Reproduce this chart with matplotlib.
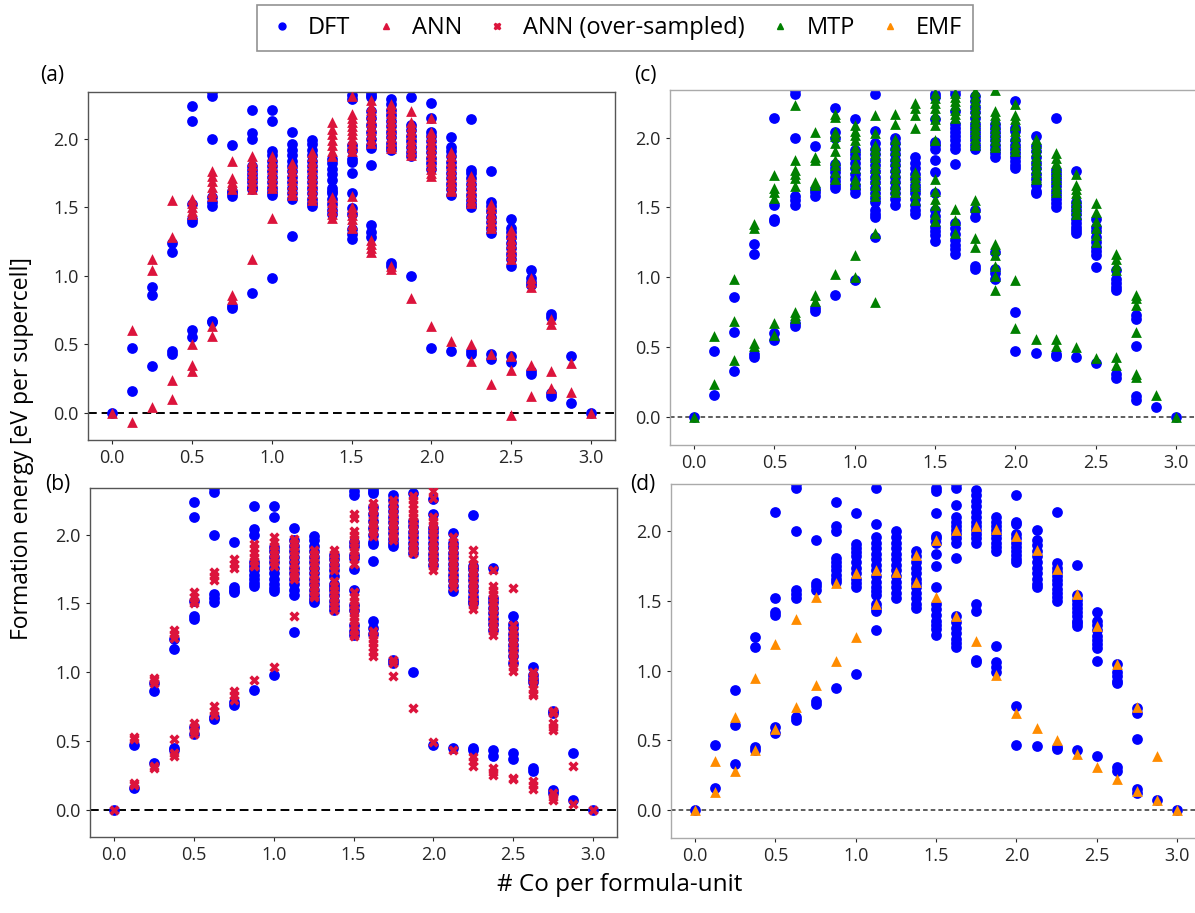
import matplotlib
matplotlib.use("Agg")
import matplotlib.pyplot as plt
from matplotlib.lines import Line2D

plt.rcParams['font.family'] = ['Open Sans', 'DejaVu Sans']

# ---------------- data (x = # Co per formula-unit -> formation energies) ----------------
DFT_AB = {
    0.0: [0.0], 0.125: [0.47, 0.16], 0.25: [0.92, 0.86, 0.34],
    0.375: [1.24, 1.17, 0.45, 0.43],
    0.5: [2.24, 2.13, 1.52, 1.41, 1.39, 0.60, 0.55],
    0.625: [2.34, 2.31, 2.00, 1.57, 1.54, 1.51, 0.67, 0.66],
    0.75: [1.95, 1.62, 1.60, 1.58, 0.78, 0.76],
    0.875: [2.21, 2.04, 2.00, 1.80, 1.77, 1.74, 1.71, 1.68, 1.65, 1.63, 0.87],
    1.0: [2.21, 2.13, 1.91, 1.88, 1.84, 1.80, 1.76, 1.72, 1.68, 1.64, 1.61, 1.59, 0.98],
    1.125: [2.05, 1.96, 1.92, 1.88, 1.84, 1.80, 1.76, 1.72, 1.68, 1.64, 1.60, 1.56, 1.29],
    1.25: [1.99, 1.96, 1.92, 1.88, 1.84, 1.80, 1.76, 1.72, 1.68, 1.64, 1.60, 1.56, 1.53, 1.51],
    1.375: [1.85, 1.82, 1.78, 1.74, 1.70, 1.64, 1.62, 1.60, 1.56, 1.52, 1.48, 1.45],
    1.5: [2.32, 2.29, 1.95, 1.92, 1.85, 1.83, 1.75, 1.60, 1.49, 1.45, 1.34, 1.30, 1.27],
    1.625: [2.34, 2.32, 2.30, 2.20, 2.15, 2.10, 2.05, 2.00, 1.95, 1.93, 1.81, 1.37, 1.32, 1.28],
    1.75: [2.29, 2.25, 2.21, 2.17, 2.13, 2.09, 2.05, 2.01, 1.97, 1.94, 1.92, 1.09, 1.07],
    1.875: [2.30, 2.10, 2.06, 2.02, 1.98, 1.94, 1.90, 1.87, 1.00],
    2.0: [2.26, 2.15, 2.05, 2.02, 1.98, 1.94, 1.90, 1.86, 1.82, 1.78, 0.47],
    2.125: [2.01, 1.94, 1.91, 1.87, 1.83, 1.79, 1.75, 1.71, 1.67, 1.63, 1.59, 0.45],
    2.25: [2.14, 1.77, 1.75, 1.71, 1.67, 1.63, 1.59, 1.55, 1.52, 1.50, 0.45, 0.43],
    2.375: [1.76, 1.54, 1.51, 1.47, 1.43, 1.39, 1.35, 1.31, 0.43, 0.39],
    2.5: [1.41, 1.35, 1.32, 1.28, 1.24, 1.20, 1.16, 1.12, 1.07, 0.41, 0.37],
    2.625: [1.04, 0.98, 0.95, 0.93, 0.30, 0.28],
    2.75: [0.72, 0.70, 0.14, 0.12],
    2.875: [0.41, 0.07],
    3.0: [0.0],
}

ANN = {
    0.0: [0.0], 0.125: [0.60, -0.07], 0.25: [1.12, 1.04, 0.04],
    0.375: [1.55, 1.28, 0.24, 0.10],
    0.5: [1.56, 1.53, 1.50, 1.47, 1.45, 0.50, 0.35, 0.30],
    0.625: [1.76, 1.73, 1.69, 1.65, 1.61, 1.58, 0.63, 0.56],
    0.75: [1.84, 1.71, 1.68, 1.66, 1.63, 0.86, 0.83],
    0.875: [1.87, 1.84, 1.81, 1.78, 1.75, 1.72, 1.69, 1.66, 1.63, 1.12],
    1.0: [1.87, 1.84, 1.81, 1.78, 1.75, 1.72, 1.69, 1.66, 1.64, 1.42],
    1.125: [1.82, 1.79, 1.76, 1.73, 1.70, 1.67, 1.64, 1.61, 1.59],
    1.25: [1.90, 1.87, 1.84, 1.81, 1.78, 1.75, 1.72, 1.69, 1.66, 1.63, 1.60, 1.57, 1.55],
    1.375: [2.12, 2.07, 2.03, 1.99, 1.95, 1.91, 1.87, 1.57, 1.54, 1.51, 1.48, 1.45, 1.42],
    1.5: [2.31, 2.18, 2.15, 2.12, 2.09, 2.06, 2.03, 2.00, 1.97, 1.94, 1.91,
          1.58, 1.50, 1.47, 1.44, 1.41, 1.38, 1.35],
    1.625: [2.28, 2.24, 2.21, 2.18, 2.15, 2.12, 2.09, 2.06, 2.03, 2.00, 1.97,
            1.26, 1.23, 1.20, 1.17],
    1.75: [2.25, 2.22, 2.19, 2.16, 2.13, 2.10, 2.07, 2.04, 2.01, 1.98, 1.95, 1.93, 1.07, 1.05],
    1.875: [2.20, 2.12, 2.09, 2.06, 2.03, 2.00, 1.97, 1.94, 1.91, 1.88, 0.84],
    2.0: [2.15, 2.05, 2.02, 1.99, 1.96, 1.93, 1.90, 1.87, 1.84, 1.81, 1.78, 1.75, 1.73, 0.63],
    2.125: [1.90, 1.87, 1.84, 1.81, 1.78, 1.75, 1.72, 1.69, 1.66, 1.63, 1.62, 0.52],
    2.25: [1.73, 1.70, 1.67, 1.64, 1.61, 1.58, 1.55, 1.53, 0.50, 0.38],
    2.375: [1.52, 1.49, 1.46, 1.43, 1.40, 1.37, 1.35, 0.43, 0.21],
    2.5: [1.33, 1.30, 1.27, 1.24, 1.21, 1.18, 1.15, 1.12, 0.41, 0.31, -0.02],
    2.625: [0.98, 0.95, 0.92, 0.35, 0.12],
    2.75: [0.68, 0.65, 0.30, 0.18],
    2.875: [0.36, 0.15],
    3.0: [0.0],
}

ANN_OS = {
    0.0: [0.0], 0.125: [0.53, 0.51, 0.195, 0.18], 0.25: [0.96, 0.94, 0.92, 0.32, 0.30],
    0.375: [1.31, 1.28, 1.25, 0.51, 0.41, 0.39],
    0.5: [1.58, 1.55, 1.52, 1.50, 0.63, 0.60, 0.57, 0.55],
    0.625: [1.73, 1.70, 1.67, 0.75, 0.72, 0.69],
    0.75: [1.82, 1.79, 1.76, 0.86, 0.83, 0.80],
    0.875: [1.93, 1.90, 1.87, 1.84, 1.81, 1.78, 1.77, 0.94],
    1.0: [1.98, 1.95, 1.92, 1.89, 1.86, 1.83, 1.80, 1.77, 1.04],
    1.125: [1.97, 1.94, 1.91, 1.88, 1.85, 1.82, 1.79, 1.76, 1.73, 1.70, 1.68, 1.41],
    1.25: [1.89, 1.86, 1.83, 1.80, 1.77, 1.74, 1.71, 1.68, 1.65, 1.62, 1.59, 1.56, 1.55],
    1.375: [1.89, 1.86, 1.83, 1.80, 1.77, 1.74, 1.66, 1.63, 1.60, 1.57, 1.54, 1.51, 1.48, 1.45],
    1.5: [2.15, 2.12, 2.03, 2.00, 1.97, 1.94, 1.91, 1.88, 1.85, 1.82, 1.79,
          1.58, 1.55, 1.52, 1.49, 1.46, 1.43, 1.40, 1.37, 1.34, 1.31, 1.28, 1.26],
    1.625: [2.23, 2.20, 2.17, 2.14, 2.11, 2.08, 2.05, 2.02, 1.99,
            1.30, 1.27, 1.24, 1.21, 1.18, 1.15, 1.12],
    1.75: [2.25, 2.22, 2.19, 2.16, 2.13, 2.10, 2.07, 2.04, 2.01, 1.98, 1.96, 1.09, 1.07, 0.97],
    1.875: [2.28, 2.25, 2.22, 2.19, 2.16, 2.13, 2.10, 2.07, 2.04, 2.01, 1.98, 1.95,
            1.92, 1.89, 1.87, 0.74],
    2.0: [2.32, 2.27, 2.13, 2.10, 2.07, 2.04, 2.01, 1.98, 1.95, 1.92, 1.89, 1.86,
          1.83, 1.80, 1.77, 1.74, 0.49],
    2.125: [1.98, 1.95, 1.92, 1.89, 1.86, 1.83, 1.80, 1.77, 1.74, 1.71, 1.68, 1.65, 1.62, 0.43],
    2.25: [1.89, 1.82, 1.79, 1.76, 1.73, 1.70, 1.67, 1.64, 1.61, 1.58, 1.55, 1.52,
           1.49, 1.46, 0.38, 0.35, 0.32],
    2.375: [1.74, 1.63, 1.60, 1.57, 1.54, 1.51, 1.48, 1.45, 1.42, 1.39, 1.36, 1.33,
            1.30, 1.27, 0.30, 0.27, 0.25],
    2.5: [1.61, 1.34, 1.31, 1.28, 1.25, 1.22, 1.19, 1.16, 1.13, 1.10, 1.07, 1.04,
          1.01, 0.23, 0.22],
    2.625: [1.00, 0.97, 0.94, 0.91, 0.88, 0.85, 0.83, 0.21, 0.18, 0.15],
    2.75: [0.72, 0.70, 0.63, 0.60, 0.58, 0.12, 0.09, 0.07],
    2.875: [0.32, 0.04],
    3.0: [0.0],
}

DFT_CD = {
    0.0: [0.0], 0.125: [0.47, 0.16], 0.25: [0.86, 0.61, 0.33],
    0.375: [1.24, 1.17, 0.45, 0.43],
    0.5: [2.14, 1.52, 1.42, 1.40, 0.60, 0.55],
    0.625: [2.34, 2.31, 2.00, 1.58, 1.55, 1.52, 0.67, 0.65],
    0.75: [1.94, 1.63, 1.61, 1.58, 0.78, 0.76],
    0.875: [2.21, 2.04, 2.00, 1.81, 1.78, 1.75, 1.72, 1.69, 1.66, 1.64, 0.875],
    1.0: [2.13, 1.91, 1.88, 1.85, 1.82, 1.78, 1.74, 1.70, 1.66, 1.63, 1.60, 0.98],
    1.125: [2.31, 2.05, 1.96, 1.92, 1.88, 1.84, 1.80, 1.76, 1.72, 1.68, 1.64, 1.60,
            1.57, 1.54, 1.48, 1.45, 1.43, 1.29],
    1.25: [2.00, 1.96, 1.92, 1.88, 1.84, 1.80, 1.76, 1.72, 1.68, 1.64, 1.60, 1.56, 1.52],
    1.375: [1.86, 1.82, 1.78, 1.74, 1.70, 1.66, 1.63, 1.60, 1.56, 1.52, 1.48, 1.45],
    1.5: [2.31, 2.29, 2.13, 1.97, 1.95, 1.92, 1.84, 1.75, 1.60, 1.48, 1.44, 1.40,
          1.36, 1.33, 1.30, 1.26],
    1.625: [2.34, 2.31, 2.19, 2.10, 2.07, 2.04, 2.01, 1.98, 1.95, 1.92, 1.81,
            1.39, 1.35, 1.31, 1.27, 1.23, 1.20, 1.17],
    1.75: [2.30, 2.26, 2.22, 2.18, 2.14, 2.10, 2.07, 2.04, 2.01, 1.98, 1.95, 1.92,
           1.48, 1.43, 1.08, 1.06],
    1.875: [2.10, 2.07, 2.04, 2.01, 1.98, 1.95, 1.92, 1.89, 1.86, 1.18, 1.06, 1.03, 0.99],
    2.0: [2.26, 2.07, 2.05, 1.98, 1.95, 1.92, 1.89, 1.86, 1.83, 1.80, 1.78, 0.75, 0.47],
    2.125: [2.01, 1.94, 1.90, 1.86, 1.82, 1.78, 1.74, 1.70, 1.66, 1.62, 1.60, 0.46],
    2.25: [2.14, 1.77, 1.74, 1.71, 1.68, 1.65, 1.62, 1.59, 1.56, 1.53, 1.50, 0.45, 0.44],
    2.375: [1.76, 1.54, 1.51, 1.48, 1.45, 1.42, 1.39, 1.36, 1.34, 1.32, 0.43],
    2.5: [1.42, 1.36, 1.33, 1.29, 1.25, 1.22, 1.19, 1.16, 1.07, 0.385],
    2.625: [1.05, 0.99, 0.96, 0.93, 0.91, 0.31, 0.28],
    2.75: [0.73, 0.70, 0.51, 0.15, 0.12],
    2.875: [0.07],
    3.0: [0.0],
}

MTP = {
    0.0: [0.0], 0.125: [0.58, 0.24], 0.25: [0.99, 0.69, 0.41],
    0.375: [1.38, 1.35, 0.53, 0.51],
    0.5: [1.73, 1.64, 1.61, 1.57, 0.67, 0.59],
    0.625: [2.23, 1.84, 1.77, 1.74, 1.71, 1.65, 0.75, 0.73, 0.71],
    0.75: [2.04, 1.86, 1.84, 1.68, 1.66, 0.87, 0.83],
    0.875: [2.17, 2.15, 2.04, 2.01, 1.96, 1.90, 1.84, 1.80, 1.75, 1.70, 1.02],
    1.0: [2.09, 2.05, 2.02, 1.98, 1.93, 1.88, 1.82, 1.78, 1.70, 1.67, 1.16, 1.00],
    1.125: [2.16, 2.03, 1.95, 1.92, 1.89, 1.86, 1.82, 1.78, 1.74, 1.70, 1.66, 1.62,
            1.58, 1.32, 0.82],
    1.25: [2.17, 2.10, 1.99, 1.95, 1.91, 1.87, 1.83, 1.79, 1.75, 1.71, 1.67, 1.64, 1.61],
    1.375: [2.25, 2.21, 2.16, 2.07, 1.75, 1.72, 1.68, 1.65, 1.60, 1.55],
    1.5: [2.32, 2.28, 2.25, 2.21, 2.17, 2.13, 2.09, 1.98, 1.70, 1.62, 1.56, 1.52, 1.45, 1.40],
    1.625: [2.32, 2.29, 2.26, 2.23, 2.20, 2.17, 2.14, 1.49, 1.41, 1.32],
    1.75: [2.33, 2.30, 2.27, 2.24, 2.21, 2.18, 2.15, 2.12, 2.09, 2.06, 2.03, 2.00,
           1.97, 1.95, 1.55, 1.50, 1.28, 1.22],
    1.875: [2.34, 2.19, 2.16, 2.13, 2.10, 2.07, 2.04, 2.01, 1.98, 1.95, 1.93,
            1.24, 1.20, 1.16, 1.08, 1.01, 0.91],
    2.0: [2.24, 2.16, 2.13, 2.09, 2.05, 2.01, 1.97, 1.93, 1.90, 0.98, 0.64],
    2.125: [1.99, 1.96, 1.93, 1.90, 1.87, 1.84, 1.81, 1.78, 1.75, 1.72, 1.70, 0.56],
    2.25: [1.89, 1.85, 1.82, 1.79, 1.76, 1.73, 1.70, 1.67, 1.64, 1.61, 0.56, 0.51],
    2.375: [1.74, 1.66, 1.63, 1.60, 1.57, 1.54, 1.51, 1.48, 1.45, 0.50],
    2.5: [1.53, 1.47, 1.40, 1.35, 1.30, 1.25, 0.42],
    2.625: [1.17, 1.13, 1.09, 1.05, 0.43, 0.37],
    2.75: [0.87, 0.85, 0.80, 0.61, 0.31, 0.29],
    2.875: [0.155],
    3.0: [0.0],
}

EMF = {
    0.0: [0.0], 0.125: [0.35, 0.13], 0.25: [0.67, 0.28], 0.375: [0.95, 0.43],
    0.5: [1.19, 0.58], 0.625: [1.37, 0.74], 0.75: [1.53, 0.90], 0.875: [1.63, 1.07],
    1.0: [1.70, 1.24], 1.125: [1.72, 1.48], 1.25: [1.71], 1.375: [1.83, 1.64],
    1.5: [1.94, 1.53], 1.625: [2.01, 1.39], 1.75: [2.04, 1.21], 1.875: [2.02, 0.97],
    2.0: [1.97, 0.70], 2.125: [1.87, 0.59], 2.25: [1.73, 0.50], 2.375: [1.55, 0.40],
    2.5: [1.32, 0.31], 2.625: [1.05, 0.22], 2.75: [0.74, 0.14], 2.875: [0.39, 0.07],
    3.0: [0.0],
}

LEGEND_LABELS = ["DFT", "ANN", "ANN (over-sampled)", "MTP", "EMF"]
XTICKS = [0.0, 0.5, 1.0, 1.5, 2.0, 2.5, 3.0]
YTICKS = [0.0, 0.5, 1.0, 1.5, 2.0]

C_DFT, C_ANN, C_MTP, C_EMF = "#0000ff", "#dc143c", "#008000", "#ff8c00"


def flat(d):
    xs, ys = [], []
    for k, vals in d.items():
        for v in vals:
            xs.append(k)
            ys.append(v)
    return xs, ys


W, H = 1195, 913
fig = plt.figure(figsize=(W / 100, H / 100), dpi=100)


def px_axes(left, top, right, bottom):
    return fig.add_axes([left / W, 1 - bottom / H, (right - left) / W, (bottom - top) / H])


axa = px_axes(88, 92, 615, 440)
axb = px_axes(90, 488, 617, 837)
axc = px_axes(670, 90, 1205, 445)
axd = px_axes(671, 484, 1206, 838)

S = 60
panels = [
    (axa, DFT_AB, ANN, C_ANN, "^", "#555555"),
    (axb, DFT_AB, ANN_OS, C_ANN, "X", "#555555"),
    (axc, DFT_CD, MTP, C_MTP, "^", "#aaaaaa"),
    (axd, DFT_CD, EMF, C_EMF, "^", "#aaaaaa"),
]
for ax, dft, other, col, mk, spc in panels:
    x, y = flat(dft)
    ax.scatter(x, y, s=S, c=C_DFT, marker="o", linewidths=0, zorder=2)
    x2, y2 = flat(other)
    ax.scatter(x2, y2, s=S if mk == "^" else 55, c=col, marker=mk, linewidths=0, zorder=3)
    if spc == "#555555":
        ax.axhline(0, color="black", lw=1.4, ls=(0, (4.5, 2.5)), zorder=1)
    else:
        ax.axhline(0, color="#333333", lw=1.1, ls=(0, (3, 2)), zorder=1)
    ax.set_xlim(-0.15, 3.15 if spc == "#555555" else 3.18)
    ax.set_ylim(-0.2, 2.34)
    ax.set_xticks(XTICKS)
    ax.set_yticks(YTICKS)
    ax.tick_params(labelsize=13, length=3, width=0.8, colors="#262626")
    for s in ax.spines.values():
        s.set_color(spc)
        s.set_linewidth(1.0)

fig.text(40 / W, 1 - 76 / H, "(a)", fontsize=15, ha="left", va="center")
fig.text(634 / W, 1 - 76 / H, "(c)", fontsize=15, ha="left", va="center")
fig.text(45 / W, 1 - 484 / H, "(b)", fontsize=15, ha="left", va="center")
fig.text(630 / W, 1 - 484 / H, "(d)", fontsize=15, ha="left", va="center")

fig.text(22 / W, 1 - 448 / H, "Formation energy [eV per supercell]", rotation=90,
         fontsize=16.5, ha="center", va="center")
fig.text(620 / W, 1 - 885 / H, "# Co per formula-unit", fontsize=17.5,
         ha="center", va="center")

handles = [
    Line2D([], [], ls="", marker="o", color=C_DFT, markersize=5),
    Line2D([], [], ls="", marker="^", color=C_ANN, markersize=5),
    Line2D([], [], ls="", marker="X", color=C_ANN, markersize=5),
    Line2D([], [], ls="", marker="^", color=C_MTP, markersize=5),
    Line2D([], [], ls="", marker="^", color=C_EMF, markersize=5),
]
leg = fig.legend(handles, LEGEND_LABELS, loc="center", bbox_to_anchor=(615 / W, 1 - 28 / H),
                 ncol=5, fontsize=17, frameon=True, fancybox=False, edgecolor="#777777",
                 columnspacing=0.9, handletextpad=0.5, handlelength=1.2,
                 borderpad=0.45)
leg.get_frame().set_linewidth(1.2)

fig.savefig("out.png", dpi=100)
